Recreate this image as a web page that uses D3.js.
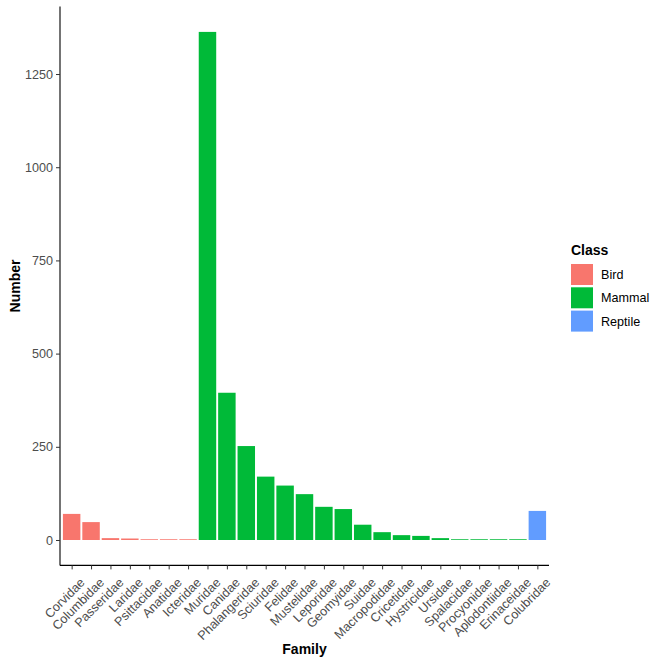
<!DOCTYPE html>
<html><head><meta charset="utf-8">
<script src="https://cdn.jsdelivr.net/npm/d3@7"></script>
<style>body{margin:0;background:#fff;} svg{display:block;font-family:"Liberation Sans",Arial,sans-serif;}</style>
</head><body>
<svg id="c" width="664" height="664"></svg>
<script>
const families = ["Corvidae","Columbidae","Passeridae","Laridae","Psittacidae","Anatidae","Icteridae",
 "Muridae","Canidae","Phalangeridae","Sciuridae","Felidae","Mustelidae","Leporidae","Geomyidae","Suidae",
 "Macropodidae","Cricetidae","Hystricidae","Ursidae","Spalacidae","Procyonidae","Aplodontiidae","Erinaceidae",
 "Colubridae"];
const counts = [70,48,5,4,2,2,2,
 1363,395,252,170,146,123,89,83,41,
 21,13,11,5,2,2,2,2,
 78];
const classes = ["Bird","Bird","Bird","Bird","Bird","Bird","Bird",
 "Mammal","Mammal","Mammal","Mammal","Mammal","Mammal","Mammal","Mammal","Mammal",
 "Mammal","Mammal","Mammal","Mammal","Mammal","Mammal","Mammal","Mammal",
 "Reptile"];
const classNames = ["Bird","Mammal","Reptile"];
const classColors = ["#F8766D","#00BA38","#619CFF"];
const yTicks = [0,250,500,750,1000,1250];

const data = families.map((f,i)=>({family:f,count:counts[i],cls:classes[i]}));
const svg = d3.select("#c");
const L=60, R=549, T=6.5, B=565.4;
const maxV = d3.max(counts);
const n = families.length;
// ggplot discrete axis: expand 0.6 units each side, bar width 0.9
const unit = (R-L)/(n-1+1.2);
const xs = d3.scalePoint().domain(families).range([L+0.6*unit, R-0.6*unit]);
const y = d3.scaleLinear().domain([-maxV*0.05, maxV*1.05]).range([B,T]);
const color = d3.scaleOrdinal().domain(classNames).range(classColors);

svg.append("g").selectAll("rect").data(data).join("rect")
  .attr("x",d=>xs(d.family)-0.45*unit).attr("width",0.9*unit)
  .attr("y",d=>y(d.count)).attr("height",d=>y(0)-y(d.count))
  .attr("fill",d=>color(d.cls));

const FS = "12.6px";
// y axis
const ya = svg.append("g").attr("transform",`translate(${L},0)`)
  .call(d3.axisLeft(y).tickValues(yTicks).tickSize(4).tickPadding(3).tickFormat(d3.format("d")));
ya.select(".domain").attr("d",`M0,${T}V${B}`).attr("stroke","#000").attr("stroke-width",1.1);
ya.selectAll(".tick line").attr("stroke","#333");
ya.selectAll(".tick text").attr("fill","#4d4d4d").attr("font-size",FS).attr("font-family","Liberation Sans, Arial");

// x axis
const xa = svg.append("g").attr("transform",`translate(0,${B})`)
  .call(d3.axisBottom(xs).tickSize(4).tickPadding(2));
xa.select(".domain").attr("d",`M${L},0H${R}`).attr("stroke","#000").attr("stroke-width",1.1);
xa.selectAll(".tick line").attr("stroke","#333");
xa.selectAll(".tick text").attr("fill","#4d4d4d").attr("font-size",FS).attr("font-family","Liberation Sans, Arial")
  .attr("text-anchor","end").attr("x",0).attr("y",0).attr("dy","0.72em")
  .attr("transform","translate(7,11.5) rotate(-45)");

// titles
svg.append("text").attr("x",(L+R)/2).attr("y",654).attr("text-anchor","middle")
  .attr("font-weight","bold").attr("font-size","14px").text("Family");
svg.append("text").attr("transform",`translate(20,${(T+B)/2}) rotate(-90)`).attr("text-anchor","middle")
  .attr("font-weight","bold").attr("font-size","14px").text("Number");

// legend
const lg = svg.append("g").attr("transform","translate(571,0)");
lg.append("text").attr("x",0).attr("y",255).attr("font-weight","bold").attr("font-size","14px").text("Class");
classNames.forEach((c,i)=>{
  lg.append("rect").attr("x",0).attr("y",264+i*23.3).attr("width",22).attr("height",21).attr("fill",classColors[i]);
  lg.append("text").attr("x",30).attr("y",264+i*23.3+15).attr("font-size",FS).attr("fill","#000").text(c);
});
</script>
</body></html>
